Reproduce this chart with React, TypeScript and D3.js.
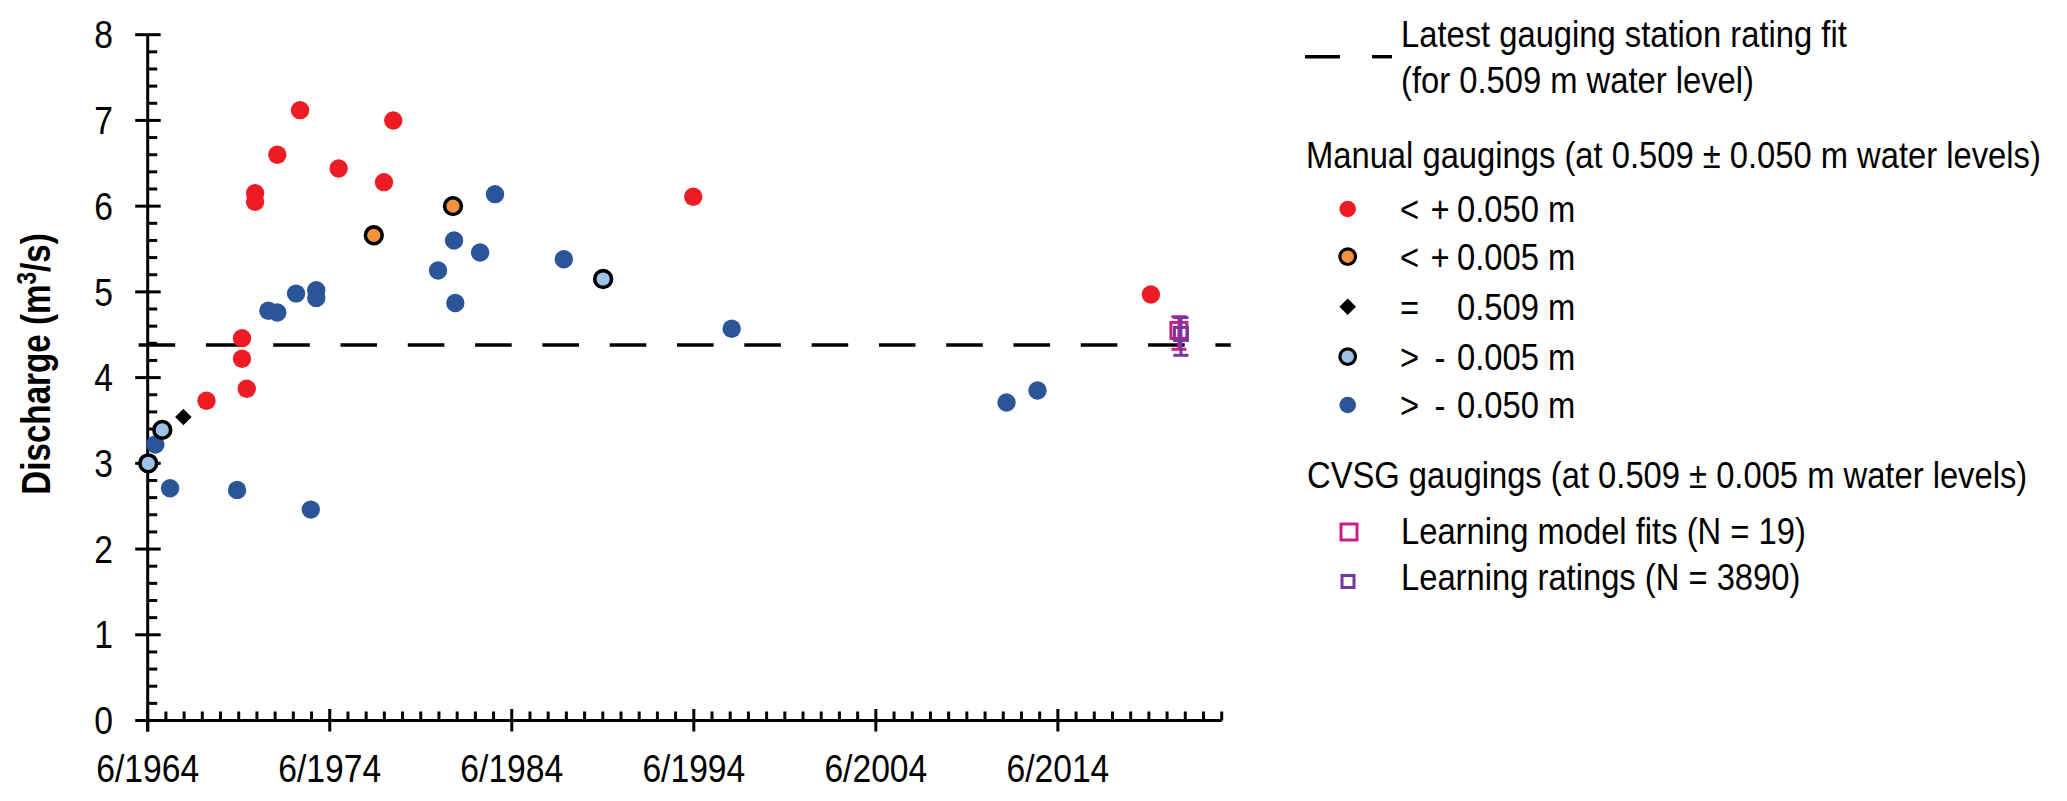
import React from "react";
import * as d3 from "d3";

// ---------- data ----------
const redYears = [1967.73, 1969.68, 1969.68, 1969.94, 1970.4, 1970.4, 1971.62, 1972.87, 1974.99, 1977.48, 1977.99, 1994.47, 2019.61];
const redValues = [3.73, 4.46, 4.22, 3.87, 6.15, 6.05, 6.6, 7.12, 6.44, 6.28, 7.0, 6.11, 4.97];

const orangeYears = [1976.92, 1981.27];
const orangeValues = [5.66, 6.0];

const diamondYears = [1966.46];
const diamondValues = [3.54];

const lightBlueYears = [1964.53, 1965.3, 1989.52];
const lightBlueValues = [3.0, 3.39, 5.15];

const blueYears = [1964.92, 1965.73, 1969.41, 1973.46, 1971.13, 1971.62, 1972.65, 1973.76, 1973.76, 1980.45, 1981.33, 1981.4, 1982.76, 1983.58, 1987.36, 1996.58, 2011.68, 2013.38];
const blueValues = [3.22, 2.71, 2.69, 2.46, 4.78, 4.76, 4.98, 5.02, 4.93, 5.25, 5.6, 4.87, 5.46, 6.14, 5.38, 4.57, 3.71, 3.85];

const modelFitYear = [2021.15];
const modelFitValue = [4.55];
const modelFitLow = [4.33];
const modelFitHigh = [4.71];

const ratingYear = [2021.26];
const ratingValue = [4.51];
const ratingLow = [4.26];
const ratingHigh = [4.7];

const ratingFitLevel = 4.38;
const ratingFitSpan = [1964.0, 2024.0];

const xTickYears = [1964.5, 1974.5, 1984.5, 1994.5, 2004.5, 2014.5];
const xTickLabels = ["6/1964", "6/1974", "6/1984", "6/1994", "6/2004", "6/2014"];
const yTickValues = [0, 1, 2, 3, 4, 5, 6, 7, 8];
const yTickLabels = ["0", "1", "2", "3", "4", "5", "6", "7", "8"];

const legendManualLabels = [
  ["<", "+", "0.050 m"],
  ["<", "+", "0.005 m"],
  ["=", "", "0.509 m"],
  [">", "-", "0.005 m"],
  [">", "-", "0.050 m"],
];

// ---------- styles ----------
const FONT = "'Liberation Sans', Arial, sans-serif";
const NARROW = 0.885;
const C_RED = "#ED1C24";
const C_ORANGE = "#F7923C";
const C_LIGHT = "#9DC3E6";
const C_BLUE = "#2A5599";
const C_MAGENTA = "#CC1F86";
const C_PURPLE = "#7436A0";

type NTProps = {
  x: number;
  y: number;
  size: number;
  anchor?: "start" | "middle" | "end";
  dy?: string;
  children: React.ReactNode;
};

function NText({ x, y, size, anchor = "start", dy, children }: NTProps) {
  return (
    <g transform={`translate(${x},${y}) scale(${NARROW},1)`}>
      <text x={0} y={0} dy={dy} fontSize={size} textAnchor={anchor} fill="#000">
        {children}
      </text>
    </g>
  );
}

export default function App() {
  const W = 2067;
  const H = 801;
  const x = d3.scaleLinear().domain([1964.5, 2023.5]).range([147.7, 1221.7]);
  const y = d3.scaleLinear().domain([0, 8]).range([720.5, 34.7]);
  const x0 = x(1964.5);
  const y0 = y(0);
  const sw = 3;

  const minorY = d3.range(0, 8.001, 0.2).filter((v) => Math.abs(v - Math.round(v)) > 1e-6);
  const minorX = d3.range(1965.5, 2023.6, 1).filter((v) => !xTickYears.some((t) => Math.abs(t - v) < 1e-6));

  const dot = (xs: number[], ys: number[], fill: string, stroke?: string) =>
    xs.map((xv, i) => (
      <circle key={`${fill}-${i}`} cx={x(xv)} cy={y(ys[i])} r={stroke ? 8.4 : 9.2} fill={fill}
        stroke={stroke || "none"} strokeWidth={stroke ? 3.6 : 0} />
    ));

  const diamondPath = d3.symbol().type(d3.symbolDiamond2).size(175)();
  const legendDiamond = d3.symbol().type(d3.symbolDiamond2).size(175)();

  const legendRowsY = [209, 256.7, 306.7, 356.7, 405];
  const lx = 1347.7;
  const LF = 37;
  const TF = 38;

  return (
    <svg width={W} height={H} style={{ position: "absolute", left: 0, top: 0, background: "#fff" }}
      fontFamily={FONT}>
      <rect x={0} y={0} width={W} height={H} fill="#fff" />

      {/* rating fit dashed line */}
      <line x1={x(ratingFitSpan[0])} x2={x(ratingFitSpan[1])} y1={y(ratingFitLevel)} y2={y(ratingFitLevel)}
        stroke="#000" strokeWidth={3.4} strokeDasharray="36.6 30.7" />

      {/* axes */}
      <g stroke="#000" strokeWidth={sw} fill="none">
        <line x1={x0} x2={x0} y1={y(8)} y2={y0 + 11} />
        <line x1={x0 - 1.5} x2={x(2023.5)} y1={y0} y2={y0} />
        {yTickValues.map((v) => (
          <line key={`ym${v}`} x1={x0 - 12.5} x2={x0 + 13} y1={y(v)} y2={y(v)} />
        ))}
        {minorY.map((v) => (
          <line key={`yn${v}`} x1={x0} x2={x0 + 9.5} y1={y(v)} y2={y(v)} />
        ))}
        {xTickYears.map((v) => (
          <line key={`xm${v}`} x1={x(v)} x2={x(v)} y1={y0 - 11.5} y2={y0 + 11} />
        ))}
        {minorX.map((v) => (
          <line key={`xn${v}`} x1={x(v)} x2={x(v)} y1={y0 - 9} y2={y0} />
        ))}
      </g>

      {/* tick labels */}
      {yTickValues.map((v, i) => (
        <NText key={`yl${v}`} x={113} y={y(v)} dy="0.36em" size={TF} anchor="end">{yTickLabels[i]}</NText>
      ))}
      {xTickYears.map((v, i) => (
        <NText key={`xl${v}`} x={x(v)} y={782} size={TF} anchor="middle">{xTickLabels[i]}</NText>
      ))}

      {/* y title */}
      <g transform={`translate(50,364) rotate(-90) scale(0.83,1)`}>
        <text x={0} y={0} textAnchor="middle" fontSize={40} fontWeight="bold">
          Discharge (m<tspan dy={-14} fontSize={27}>3</tspan><tspan dy={14}>/s)</tspan>
        </text>
      </g>

      {/* points */}
      {dot(blueYears, blueValues, C_BLUE)}
      {dot(redYears, redValues, C_RED)}
      {dot(orangeYears, orangeValues, C_ORANGE, "#000")}
      {dot(lightBlueYears, lightBlueValues, C_LIGHT, "#000")}
      {diamondYears.map((xv, i) => (
        <path key={`d${i}`} d={diamondPath || ""} transform={`translate(${x(xv)},${y(diamondValues[i])})`} fill="#000" />
      ))}

      {/* CVSG */}
      {modelFitYear.map((xv, i) => {
        const cx = x(xv);
        return (
          <g key={`mf${i}`} stroke={C_MAGENTA} strokeWidth={3} fill="none">
            <line x1={cx} x2={cx} y1={y(modelFitHigh[i])} y2={y(modelFitLow[i])} />
            <line x1={cx - 7.5} x2={cx + 7.5} y1={y(modelFitHigh[i])} y2={y(modelFitHigh[i])} />
            <line x1={cx - 7.5} x2={cx + 7.5} y1={y(modelFitLow[i])} y2={y(modelFitLow[i])} />
            <rect x={cx - 8} y={y(modelFitValue[i]) - 8} width={16} height={16} />
          </g>
        );
      })}
      {ratingYear.map((xv, i) => {
        const cx = x(xv);
        return (
          <g key={`rt${i}`} stroke={C_PURPLE} strokeWidth={3} fill="none">
            <line x1={cx} x2={cx} y1={y(ratingHigh[i])} y2={y(ratingLow[i])} />
            <line x1={cx - 7.5} x2={cx + 7.5} y1={y(ratingHigh[i])} y2={y(ratingHigh[i])} />
            <line x1={cx - 7.5} x2={cx + 7.5} y1={y(ratingLow[i])} y2={y(ratingLow[i])} />
            <rect x={cx - 6.5} y={y(ratingValue[i]) - 6.5} width={13} height={13} />
          </g>
        );
      })}

      {/* legend */}
      <line x1={1305} x2={1340} y1={56.7} y2={56.7} stroke="#000" strokeWidth={3.4} />
      <line x1={1372} x2={1392} y1={56.7} y2={56.7} stroke="#000" strokeWidth={3.4} />
      <NText x={1401} y={47} size={LF}>Latest gauging station rating fit</NText>
      <NText x={1401} y={92.5} size={LF}>(for 0.509 m water level)</NText>

      <NText x={1306} y={168} size={LF}>Manual gaugings (at 0.509 ± 0.050 m water levels)</NText>
      <circle cx={lx} cy={legendRowsY[0]} r={8.3} fill={C_RED} />
      <circle cx={lx} cy={legendRowsY[1]} r={7.8} fill={C_ORANGE} stroke="#000" strokeWidth={3.2} />
      <path d={legendDiamond || ""} transform={`translate(${lx},${legendRowsY[2]})`} fill="#000" />
      <circle cx={lx} cy={legendRowsY[3]} r={7.8} fill={C_LIGHT} stroke="#000" strokeWidth={3.2} />
      <circle cx={lx} cy={legendRowsY[4]} r={8.3} fill={C_BLUE} />
      {legendManualLabels.map((parts, i) => (
        <g key={`lm${i}`}>
          <NText x={1400} y={legendRowsY[i] + 13} size={LF}>{parts[0]}</NText>
          <NText x={1440} y={legendRowsY[i] + 13} size={LF} anchor="middle">{parts[1]}</NText>
          <NText x={1457} y={legendRowsY[i] + 13} size={LF}>{parts[2]}</NText>
        </g>
      ))}

      <NText x={1307} y={488} size={LF}>CVSG gaugings (at 0.509 ± 0.005 m water levels)</NText>
      <rect x={1341} y={524} width={16} height={16} fill="none" stroke={C_MAGENTA} strokeWidth={3} />
      <NText x={1401} y={544} size={LF}>Learning model fits (N = 19)</NText>
      <rect x={1342} y={575.5} width={12} height={12} fill="none" stroke={C_PURPLE} strokeWidth={3} />
      <NText x={1401} y={590} size={LF}>Learning ratings (N = 3890)</NText>
    </svg>
  );
}
